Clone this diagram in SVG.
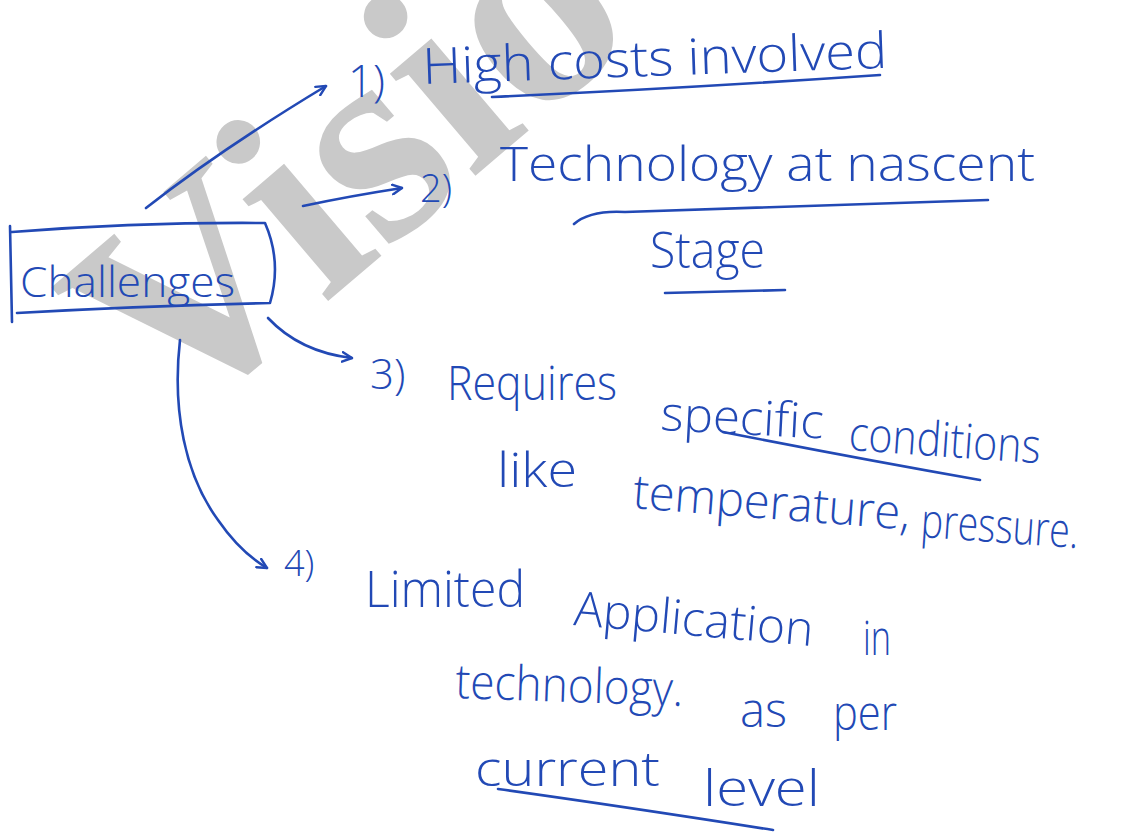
<svg xmlns="http://www.w3.org/2000/svg" width="1122" height="833" viewBox="0 0 1122 833">
<defs>
<style>
.ink{fill:#2249b5;font-family:"Open Sans","Liberation Sans",sans-serif;font-weight:300}
.ln{fill:none;stroke:#2249b5;stroke-width:2.6;stroke-linecap:round;stroke-linejoin:round}
.wm{fill:#c9c9c9;font-family:"Liberation Serif",serif;font-weight:bold}
</style>
<marker id="ah" viewBox="0 0 10 10" refX="9" refY="5" markerWidth="12" markerHeight="12" markerUnits="userSpaceOnUse" orient="auto">
<path d="M1,1 L9,5 L1,9" fill="none" stroke="#2249b5" stroke-width="2" stroke-linecap="round" stroke-linejoin="round"/>
</marker>
</defs>
<rect width="1122" height="833" fill="#ffffff"/>
<g id="watermark">
<text class="wm" x="0" y="0" font-size="290" transform="translate(172,434) rotate(-40.4)">Visio</text>
</g>
<g id="connectors">
<path class="ln" d="M146,208 Q220,150 326,86" marker-end="url(#ah)"/>
<path class="ln" d="M303,206 Q350,196 402,188" marker-end="url(#ah)"/>
<path class="ln" d="M268,318 Q300,352 352,358" marker-end="url(#ah)"/>
<path class="ln" d="M180,340 C172,410 185,475 218,520 Q240,552 267,568" marker-end="url(#ah)"/>
</g>
<g id="challenges">
<path class="ln" d="M10,226 L12,322 M12,232 Q140,222 265,223 Q282,262 270,303 Q140,306 17,313"/>
<text class="ink" x="20" y="297" font-size="43" textLength="215" lengthAdjust="spacingAndGlyphs">Challenges</text>
</g>
<g id="item1">
<text class="ink" x="348" y="97" font-size="44">1)</text>
<text class="ink" x="423" y="84" font-size="50" textLength="465" lengthAdjust="spacingAndGlyphs" transform="rotate(-2 423 84)">High costs involved</text>
<path class="ln" d="M492,97 Q690,88 880,75"/>
</g>
<g id="item2">
<text class="ink" x="420" y="202" font-size="38">2)</text>
<text class="ink" x="500" y="181" font-size="48" textLength="535" lengthAdjust="spacingAndGlyphs">Technology at nascent</text>
<path class="ln" d="M574,224 Q590,210 625,212 L988,200"/>
<text class="ink" x="650" y="268" font-size="50" textLength="115" lengthAdjust="spacingAndGlyphs">Stage</text>
<path class="ln" d="M665,293 L785,290"/>
</g>
<g id="item3">
<text class="ink" x="370" y="389" font-size="42">3)</text>
<text class="ink" x="447" y="400" font-size="48" textLength="170" lengthAdjust="spacingAndGlyphs">Requires</text>
<text class="ink" x="660" y="430" font-size="48" textLength="163" lengthAdjust="spacingAndGlyphs" transform="rotate(3 660 430)">specific</text>
<text class="ink" x="848" y="450" font-size="48" textLength="192" lengthAdjust="spacingAndGlyphs" transform="rotate(4 848 450)">conditions</text>
<path class="ln" d="M723,432 Q855,458 980,480"/>
<text class="ink" x="497" y="487" font-size="48" textLength="80" lengthAdjust="spacingAndGlyphs">like</text>
<text class="ink" x="632" y="508" font-size="48" textLength="278" lengthAdjust="spacingAndGlyphs" transform="rotate(4.5 632 508)">temperature,</text>
<text class="ink" x="920" y="537" font-size="48" textLength="158" lengthAdjust="spacingAndGlyphs" transform="rotate(4 920 537)">pressure.</text>
</g>
<g id="item4">
<text class="ink" x="284" y="576" font-size="36">4)</text>
<text class="ink" x="365" y="607" font-size="50" textLength="160" lengthAdjust="spacingAndGlyphs">Limited</text>
<text class="ink" x="573" y="625" font-size="48" textLength="240" lengthAdjust="spacingAndGlyphs" transform="rotate(5 573 625)">Application</text>
<text class="ink" x="863" y="655" font-size="48" textLength="28" lengthAdjust="spacingAndGlyphs">in</text>
<text class="ink" x="455" y="698" font-size="48" textLength="228" lengthAdjust="spacingAndGlyphs" transform="rotate(2 455 698)">technology.</text>
<text class="ink" x="740" y="727" font-size="48" textLength="47" lengthAdjust="spacingAndGlyphs">as</text>
<text class="ink" x="833" y="730" font-size="48" textLength="64" lengthAdjust="spacingAndGlyphs">per</text>
<text class="ink" x="475" y="786" font-size="48" textLength="185" lengthAdjust="spacingAndGlyphs">current</text>
<text class="ink" x="703" y="806" font-size="50" textLength="117" lengthAdjust="spacingAndGlyphs">level</text>
<path class="ln" d="M498,789 Q620,806 773,830"/>
</g>
</svg>
